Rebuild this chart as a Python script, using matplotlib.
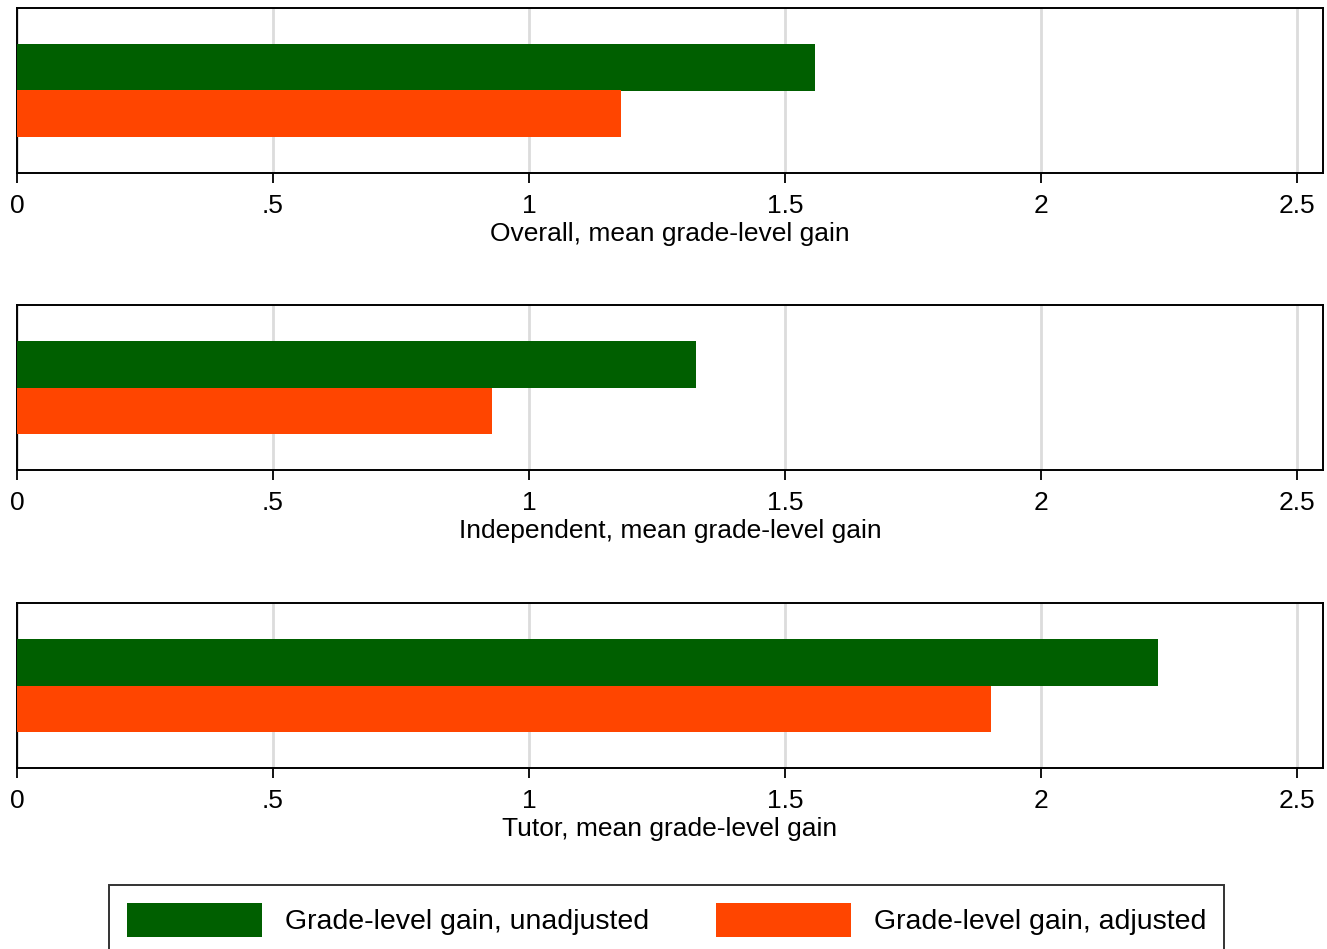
import numpy as np
import matplotlib
matplotlib.use('Agg')
import matplotlib.pyplot as plt
from matplotlib.patches import Patch

plt.rcParams['font.family'] = ['Liberation Sans', 'DejaVu Sans']

# mean grade-level gain by group
panels = ['Overall', 'Independent', 'Tutor']
gain_unadjusted = [1.559, 1.327, 2.229]
gain_adjusted = [1.180, 0.928, 1.902]
series_labels = ['Grade-level gain, unadjusted', 'Grade-level gain, adjusted']
xticks = [0, 0.5, 1, 1.5, 2, 2.5]
xtick_labels = ['0', '.5', '1', '1.5', '2', '2.5']

green = '#005f00'
orange = '#ff4500'

fig = plt.figure(figsize=(13.27, 9.49), dpi=100)

W, H = 1327.0, 949.0
left = 17 / W
width = 1306 / W
height = 165 / H
tops = [8, 305, 603]

for i, name in enumerate(panels):
    bottom = 1 - (tops[i] + 165) / H
    ax = fig.add_axes([left, bottom, width, height])
    ax.barh(1, gain_unadjusted[i], height=1.0, color=green, zorder=3)
    ax.barh(0, gain_adjusted[i], height=1.0, color=orange, zorder=3)
    ax.set_xlim(0, 2.551)
    ax.set_ylim(-1.274, 2.274)
    ax.set_xticks(xticks)
    ax.set_xticklabels(xtick_labels, fontsize=19)
    ax.set_yticks([])
    ax.xaxis.grid(True, color='#dcdcdc', linewidth=2, zorder=0)
    ax.set_axisbelow(True)
    ax.tick_params(axis='x', direction='out', length=7, width=1.3, pad=8)
    for sp in ax.spines.values():
        sp.set_linewidth(1.4)
        sp.set_color('black')
    ax.set_xlabel('%s, mean grade-level gain' % name, fontsize=19, labelpad=3)

# legend box runs off the bottom edge of the figure
handles = [Patch(facecolor=green, edgecolor='none'),
           Patch(facecolor=orange, edgecolor='none')]
leg = fig.legend(handles, series_labels, loc='upper left',
                 bbox_to_anchor=(109 / W, 0, 1115 / W, 1 - 885 / H),
                 mode='expand', ncol=2, fontsize=20.5, frameon=True,
                 fancybox=False, edgecolor='black', handlelength=4.75,
                 handleheight=1.5, handletextpad=0.8, columnspacing=2.3,
                 borderpad=0.62, borderaxespad=0)
leg.get_frame().set_linewidth(1.4)

fig.savefig('out.png', dpi=100)
